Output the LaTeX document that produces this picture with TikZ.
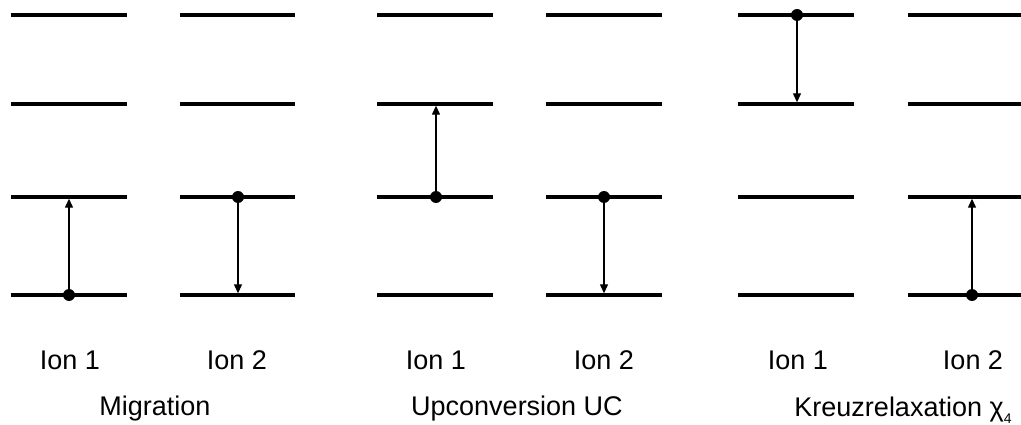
\documentclass[tikz,border=0pt]{standalone}
\usepackage{fontspec}
\setmainfont{Liberation Sans}
\usetikzlibrary{arrows.meta}
\begin{document}
\begin{tikzpicture}[x=1pt,y=-1pt,
  level/.style={line width=3.5pt},
  dot/.style={circle,fill=black,inner sep=0pt,minimum size=12pt},
  trans/.style={line width=1.3pt,-{Triangle[length=9pt,width=8pt]},shorten >=1.7pt},
  lbl/.style={anchor=base,inner sep=0pt,font=\fontsize{27}{32}\selectfont}]
\useasboundingbox (0,0) rectangle (1021,425);
% energy levels of each ion
\foreach \l/\r/\x/\n in {11/127/69/a,180/295/238/b,377/493/436/c,546/662/604/d,738/854/797/e,908/1021/972/f}{
  \foreach \y/\k in {15/3,104/2,197/1,295/0}{
    \draw[level] (\l,\y) -- (\r,\y);
    \coordinate (\n-\k) at (\x,\y);
  }
}
% Migration
\node[dot] (da) at (a-0) {};
\draw[trans] (da) -- (a-1);
\node[dot] (db) at (b-1) {};
\draw[trans] (db) -- (b-0);
% Upconversion
\node[dot] (dc) at (c-1) {};
\draw[trans] (dc) -- (c-2);
\node[dot] (dd) at (d-1) {};
\draw[trans] (dd) -- (d-0);
% Kreuzrelaxation
\node[dot] (de) at (e-3) {};
\draw[trans] (de) -- (e-2);
\node[dot] (df) at (f-0) {};
\draw[trans] (df) -- (f-1);
% labels
\node[lbl] (ia) at (70,369) {Ion 1};
\node[lbl] (ib) at (237,369) {Ion 2};
\node[lbl] (ic) at (436,369) {Ion 1};
\node[lbl] (id) at (604,369) {Ion 2};
\node[lbl] (ie) at (798,369) {Ion 1};
\node[lbl] (if) at (973,369) {Ion 2};
\node[lbl] (gm) at (155,415) {Migration};
\node[lbl] (gu) at (517,415) {Upconversion UC};
\node[lbl] (gk) at (903,416) {Kreuzrelaxation χ\raisebox{-0.5ex}{\fontsize{14}{16}\selectfont 4}};
\end{tikzpicture}
\end{document}
